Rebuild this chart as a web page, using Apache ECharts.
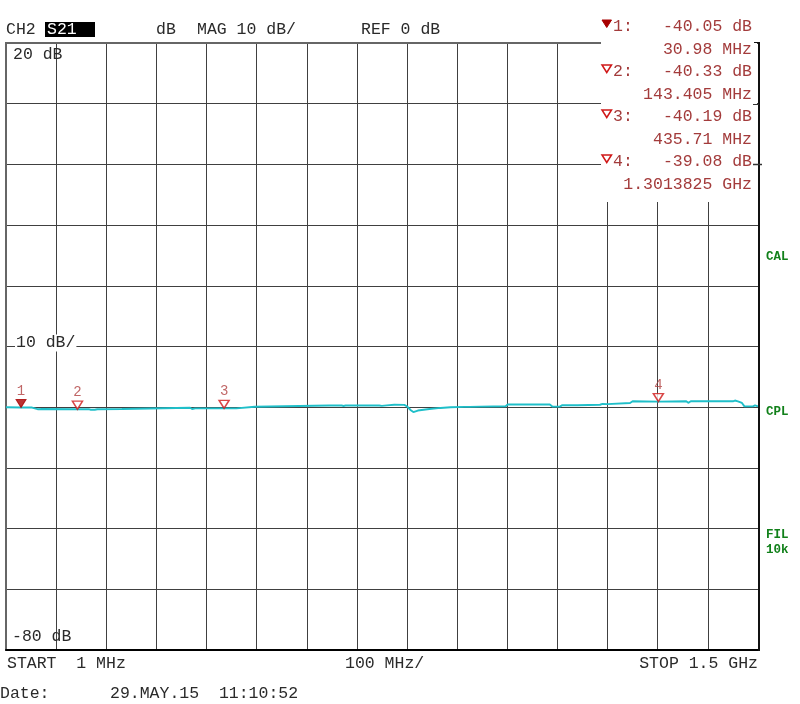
<!DOCTYPE html>
<html><head><meta charset="utf-8">
<script src="https://cdn.jsdelivr.net/npm/echarts@6/dist/echarts.min.js"></script>
<style>html,body{margin:0;padding:0;background:#fff}#c{width:800px;height:704px}</style>
</head><body><div id="c"></div>
<script>
// ---- data ----
const xStartMHz = 1, xStopMHz = 1500, xDivisions = 15;
const yMinDb = -80, yMaxDb = 20, yStepDb = 10;

const traceFreq = [1, 31, 53, 56, 64, 73, 143, 166, 170, 178, 183, 232, 235, 368, 372, 378, 436, 460, 463, 497, 500, 645, 648, 652, 670, 674, 678, 745, 750, 760, 775, 795, 800, 808, 813, 822, 845, 867, 887, 915, 918, 925, 947, 950, 997, 1001, 1085, 1090, 1105, 1110, 1140, 1185, 1190, 1200, 1203, 1245, 1250, 1301, 1357, 1361, 1366, 1450, 1454, 1460, 1468, 1473, 1490, 1494, 1497, 1500];
const traceDb = [-40.02, -40.05, -40.06, -40.2, -40.33, -40.3, -40.33, -40.33, -40.42, -40.42, -40.33, -40.3, -40.1, -40.1, -40.3, -40.19, -40.19, -40.19, -39.92, -39.92, -39.72, -39.72, -39.8, -39.72, -39.72, -39.8, -39.72, -39.72, -39.78, -39.7, -39.6, -39.62, -39.85, -40.5, -40.8, -40.55, -40.3, -40.12, -40.02, -39.95, -39.84, -39.95, -39.9, -39.84, -39.84, -39.56, -39.56, -39.9, -39.9, -39.67, -39.67, -39.6, -39.46, -39.5, -39.34, -39.3, -39.03, -39.08, -39.03, -39.28, -39.03, -39.03, -38.9, -39.03, -39.3, -39.86, -39.86, -39.7, -39.86, -39.86];

const markerNames = ['1', '2', '3', '4'];
const markerFreq = [30.98, 143.405, 435.71, 1301.3825];
const markerDb = [-40.05, -40.33, -40.19, -39.08];
const markerFilled = [true, false, false, false];

const headerTexts = ['CH2', 'S21', 'dB', 'MAG 10 dB/', 'REF 0 dB'];
const scaleTexts = ['20 dB', '10 dB/', '-80 dB'];
const footerTexts = ['START  1 MHz', '100 MHz/', 'STOP 1.5 GHz'];
const dateTexts = ['Date:', '29.MAY.15  11:10:52'];
const statusTexts = ['CAL', 'CPL', 'FIL', '10k'];

// ---- helpers ----
const MONO = '"Liberation Mono","DejaVu Sans Mono",monospace';
const FS = 16.5;
const TXT = '#2a2a2a';
const RED_TXT = '#a33b3b';
const GREEN = '#11801a';
function T(x, y, s, o) {
  o = o || {};
  return {
    type: 'text', x: x, y: y, z: o.z || 70,
    style: Object.assign({
      text: s, fill: o.fill || TXT, fontSize: o.fs || FS, fontFamily: MONO,
      fontWeight: o.fw || 'normal',
      textAlign: o.align || 'left', align: o.align || 'left',
      textVerticalAlign: 'middle', verticalAlign: 'middle'
    }, o.extra || {})
  };
}
function fmtFreq(f) {
  return f >= 1000 ? Number((f / 1000).toPrecision(8)) + ' GHz' : f + ' MHz';
}

const graphics = [];
// white area behind marker readout
graphics.push({type: 'rect', z: 50, shape: {x: 601, y: 0, width: 156, height: 202}, style: {fill: '#fff'}});
// borders
graphics.push({type: 'line', z: 60, shape: {x1: 759, y1: 42, x2: 759, y2: 651}, style: {stroke: '#111', lineWidth: 2}});
graphics.push({type: 'line', z: 60, shape: {x1: 5, y1: 43, x2: 601, y2: 43}, style: {stroke: '#666', lineWidth: 2}});
graphics.push({type: 'line', z: 60, shape: {x1: 754, y1: 42.5, x2: 759, y2: 42.5}, style: {stroke: '#111', lineWidth: 1}});
graphics.push({type: 'line', z: 60, shape: {x1: 753, y1: 104.5, x2: 759, y2: 104.5}, style: {stroke: '#333', lineWidth: 1}});
graphics.push({type: 'line', z: 60, shape: {x1: 753, y1: 164.5, x2: 762, y2: 164.5}, style: {stroke: '#333', lineWidth: 1.5}});

// header
graphics.push(T(6, 30, headerTexts[0]));
graphics.push({type: 'rect', z: 65, shape: {x: 45, y: 22, width: 50, height: 15}, style: {fill: '#000'}});
graphics.push(T(47, 30, headerTexts[1], {fill: '#fff'}));
graphics.push(T(156, 30, headerTexts[2]));
graphics.push(T(197, 30, headerTexts[3]));
graphics.push(T(361, 30, headerTexts[4]));

// scale labels
graphics.push(T(13, 55, scaleTexts[0]));
graphics.push(T(15, 343, scaleTexts[1], {extra: {backgroundColor: '#fff', padding: [0, 1, 0, 1]}}));
graphics.push(T(12, 637, scaleTexts[2]));

// footer
graphics.push(T(7, 664, footerTexts[0]));
graphics.push(T(345, 664, footerTexts[1]));
graphics.push(T(758, 664, footerTexts[2], {align: 'right'}));
graphics.push(T(0, 694, dateTexts[0]));
graphics.push(T(110, 694, dateTexts[1]));

// status
const statusY = [257, 412, 535, 550];
statusTexts.forEach((s, i) => graphics.push(T(766, statusY[i], s, {fill: GREEN, fs: 12.5, fw: 'bold'})));

// marker readout
markerNames.forEach((n, i) => {
  const ry = 27 + 45 * i;
  graphics.push({
    type: 'polygon', z: 70,
    shape: {points: [[602, ry - 7], [611.5, ry - 7], [606.75, ry + 0.5]]},
    style: markerFilled[i] ? {fill: '#a80000', stroke: '#a80000', lineWidth: 1}
                           : {fill: '#fff', stroke: '#d01818', lineWidth: 1.5}
  });
  graphics.push(T(613, ry, n + ':', {fill: RED_TXT}));
  graphics.push(T(752, ry, markerDb[i].toFixed(2) + ' dB', {fill: RED_TXT, align: 'right'}));
  graphics.push(T(752, ry + 22.5, fmtFreq(markerFreq[i]), {fill: RED_TXT, align: 'right'}));
});

const chart = echarts.init(document.getElementById('c'), null, {renderer: 'canvas'});
const GRID = {left: 6, top: 43, width: 752, height: 607};
const gridLine = {show: true, lineStyle: {color: '#404040', width: 1}};

chart.setOption({
  animation: false,
  backgroundColor: '#fff',
  grid: Object.assign({containLabel: false, show: false}, GRID),
  xAxis: [
    {type: 'value', min: xStartMHz, max: xStopMHz, show: false, position: 'top'},
    {type: 'value', min: 0, max: xDivisions, interval: 1, position: 'bottom',
     axisLine: {show: true, lineStyle: {color: '#000', width: 2}},
     axisTick: {show: false}, axisLabel: {show: false}, splitLine: gridLine}
  ],
  yAxis: [
    {type: 'value', min: yMinDb, max: yMaxDb, interval: yStepDb, show: false, position: 'right'},
    {type: 'value', min: 0, max: (yMaxDb - yMinDb) / yStepDb, interval: 1, position: 'left',
     axisLine: {show: true, lineStyle: {color: '#666', width: 2}},
     axisTick: {show: false}, axisLabel: {show: false}, splitLine: gridLine}
  ],
  series: [
    {
      type: 'line', xAxisIndex: 0, yAxisIndex: 0, showSymbol: false, symbol: 'none',
      data: traceFreq.map((f, i) => [f, traceDb[i]]),
      lineStyle: {color: '#1fbfc9', width: 1.9}, z: 3
    },
    {
      type: 'scatter', xAxisIndex: 0, yAxisIndex: 0, z: 5,
      symbol: 'path://M0,0 L10,0 L5,8 Z', symbolSize: [10, 8], symbolOffset: [0, -4],
      data: markerNames.map((n, i) => ({
        name: n, value: [markerFreq[i], markerDb[i]],
        itemStyle: markerFilled[i] ? {color: '#a80000', borderColor: '#a80000', borderWidth: 1}
                                   : {color: '#fff', borderColor: '#d01818', borderWidth: 1.5}
      })),
      label: {show: true, position: 'top', distance: 1, formatter: '{b}',
              color: '#b04040', fontSize: 14, fontFamily: MONO}
    }
  ],
  graphic: graphics
});
</script>
</body></html>
